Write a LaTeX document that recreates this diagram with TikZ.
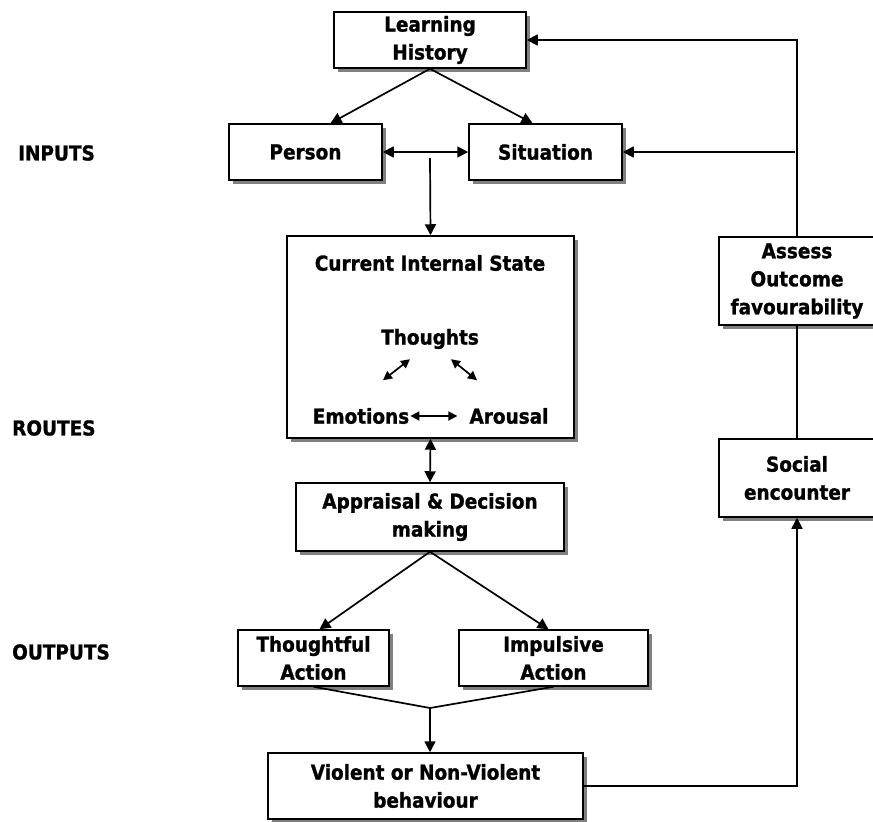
\documentclass[tikz,border=0pt]{standalone}
\usepackage{fontspec}
\setmainfont[BoldFeatures={FakeBold=1.2}]{DejaVu Sans Condensed}
\usetikzlibrary{arrows.meta,shadows,calc}
\tikzset{
  box/.style={rectangle, draw=black, fill=white, line width=1.5pt, align=center,
              font=\bfseries\fontsize{20.5}{28}\selectfont, inner sep=2pt,
              drop shadow={shadow xshift=4pt, shadow yshift=-4pt, fill=black!50, opacity=1}},
  txt/.style={font=\bfseries\fontsize{20.5}{28}\selectfont, inner sep=0pt},
  fl/.style={-{Triangle[length=11pt,width=11pt]}, line width=1.7pt},
  fll/.style={{Triangle[length=11pt,width=11pt]}-{Triangle[length=11pt,width=11pt]}, line width=1.7pt},
  sm/.style={{Triangle[length=9pt,width=9pt]}-{Triangle[length=9pt,width=9pt]}, line width=1.7pt},
  ln/.style={line width=1.7pt}
}

\begin{document}
\begin{tikzpicture}[x=1pt,y=-1pt]
  \useasboundingbox (0,0) rectangle (873,822);

  % row labels
  \node[txt, anchor=west] (inputs) at (18,153) {INPUTS};
  \node[txt, anchor=west] (routes) at (12,428) {ROUTES};
  \node[txt, anchor=west] (outputs) at (12,652) {OUTPUTS};

  % boxes
  \node[box, minimum width=192pt, minimum height=56pt] (learn) at (430,40) {Learning\\History};
  \node[box, minimum width=153pt, minimum height=56pt] (person) at (305.5,152) {Person};
  \node[box, minimum width=153pt, minimum height=56pt] (sit) at (545.5,152) {Situation};
  \node[box, minimum width=287pt, minimum height=202pt] (cis) at (430.5,337) {};
  \node[box, minimum width=268pt, minimum height=68pt] (appr) at (430,517) {Appraisal \& Decision\\making};
  \node[box, minimum width=151pt, minimum height=56pt] (thought) at (313.5,658) {Thoughtful\\Action};
  \node[box, minimum width=189pt, minimum height=56pt] (impuls) at (553.5,658) {Impulsive\\Action};
  \node[box, minimum width=315pt, minimum height=66pt] (behav) at (425.5,786) {Violent or Non-Violent\\behaviour};
  \node[box, minimum width=156pt, minimum height=78pt] (social) at (797,478) {Social\\encounter};
  \node[box, minimum width=156pt, minimum height=88pt] (assess) at (797,281) {Assess\\Outcome\\favourability};

  % inside the internal state box
  \node[txt] (cistitle) at (430,263) {Current Internal State};
  \node[txt] (th) at (430,339) {Thoughts};
  \node[txt] (em) at (361,416) {Emotions};
  \node[txt] (ar) at (509,416) {Arousal};
  \draw[sm] ($(th.south)+(-20,10)$) -- ($(th.south)+(-47,31)$);
  \draw[sm] ($(th.south)+(21,10)$) -- ($(th.south)+(47,31)$);
  \draw[sm] ($(em.east)+(1,0)$) -- ($(ar.west)+(-12,0)$);

  % connectors
  \coordinate (split) at (430,158);
  \coordinate (join) at (430,708);
  \coordinate (fb) at (795,152);
  \draw[fl] (learn.south) -- ([xshift=25pt]person.north);
  \draw[fl] (learn.south) -- ([xshift=-13pt]sit.north);
  \draw[fll] (person.east) -- (sit.west);
  \draw[fl] (split) -- (cis.north);
  \draw[fll] (cis.south) -- (appr.north);
  \draw[fl] (appr.south) -- ([xshift=6pt]thought.north);
  \draw[fl] (appr.south) -- ([xshift=-5pt]impuls.north);
  \draw[ln] (thought.south) -- (join) -- (impuls.south);
  \draw[fl] (join) -- (join |- behav.north);
  \draw[fl] (behav.east) -| (social.south);
  \draw[ln] (social.north) -- (assess.south);
  \draw[fl] (assess.north) |- (learn.east);
  \draw[fl] (fb) -- (sit.east);
\end{tikzpicture}
\end{document}
